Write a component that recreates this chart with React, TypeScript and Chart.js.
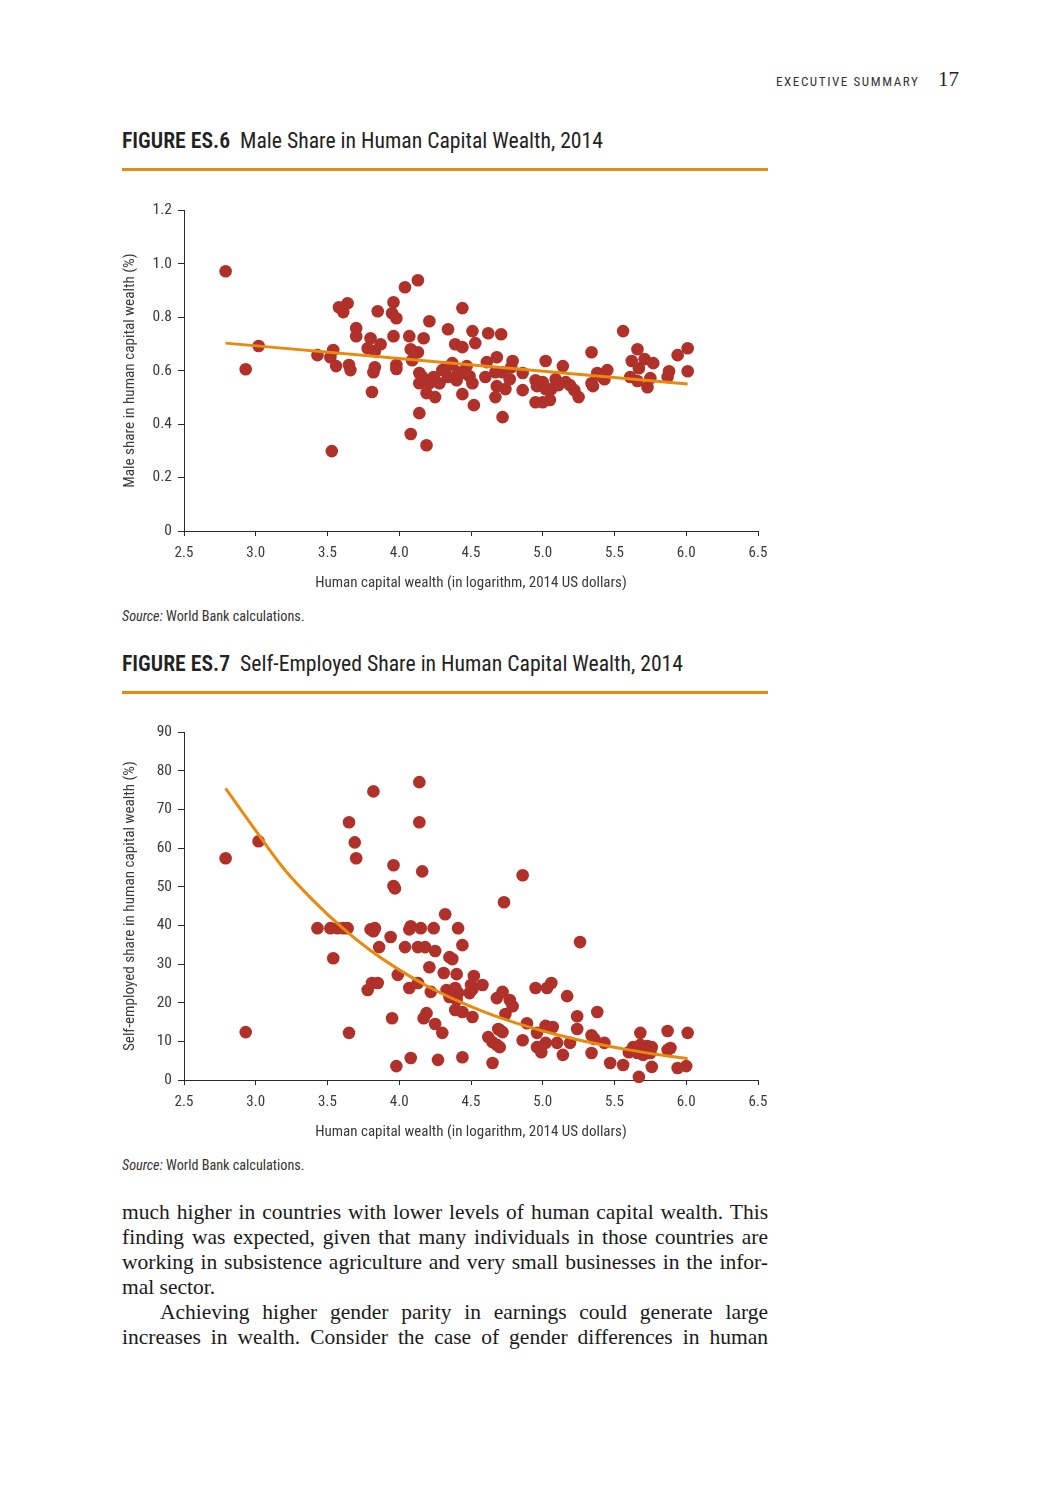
import React, { useEffect, useRef } from 'react';
import { Chart, registerables } from 'chart.js';

Chart.register(...registerables);

// ---------- data ----------
const xTickLabels = ['2.5', '3.0', '3.5', '4.0', '4.5', '5.0', '5.5', '6.0', '6.5'];

const maleX = [
  2.79, 2.93, 3.02, 3.43, 3.52, 3.54, 3.53, 3.56, 3.58, 3.61,
  3.64, 3.65, 3.66, 3.70, 3.70, 3.80, 3.78, 3.81, 3.83, 3.83,
  3.82, 3.85, 3.87, 3.95, 3.98, 3.96, 3.96, 3.98, 3.98, 4.04,
  4.07, 4.08, 4.09, 4.13, 4.13, 4.14, 4.14, 4.14, 4.08, 4.16,
  4.17, 4.19, 4.19, 4.21, 4.25, 4.24, 4.28, 4.33, 4.34, 4.34,
  4.37, 4.39, 4.40, 4.44, 4.44, 4.44, 4.44, 4.49, 4.51, 4.53,
  4.51, 4.52, 4.60, 4.61, 4.62, 4.68, 4.67, 4.68, 4.67, 4.71,
  4.72, 4.72, 4.74, 4.77, 4.79, 4.86, 4.86, 4.95, 4.96, 4.95,
  5.00, 5.00, 5.02, 5.02, 5.05, 5.06, 5.09, 5.11, 5.14, 5.16,
  5.19, 5.22, 5.25, 5.34, 5.34, 5.35, 5.38, 5.43, 5.45, 5.56,
  5.61, 5.62, 5.66, 5.67, 5.66, 5.71, 5.75, 5.73, 5.77, 5.87,
  5.88, 5.94, 6.01, 6.01, 4.30, 4.41, 4.47, 4.21, 4.78, 5.41,
];
const maleY = [
  0.972, 0.605, 0.692, 0.658, 0.650, 0.677, 0.299, 0.617, 0.837, 0.819,
  0.852, 0.621, 0.602, 0.759, 0.729, 0.721, 0.684, 0.520, 0.673, 0.613,
  0.594, 0.822, 0.699, 0.815, 0.796, 0.856, 0.729, 0.621, 0.606, 0.912,
  0.729, 0.680, 0.639, 0.669, 0.938, 0.591, 0.553, 0.441, 0.363, 0.576,
  0.721, 0.516, 0.321, 0.785, 0.501, 0.576, 0.553, 0.613, 0.576, 0.755,
  0.628, 0.699, 0.564, 0.834, 0.688, 0.591, 0.512, 0.579, 0.748, 0.703,
  0.553, 0.471, 0.576, 0.632, 0.740, 0.650, 0.594, 0.542, 0.501, 0.736,
  0.594, 0.426, 0.531, 0.568, 0.636, 0.527, 0.591, 0.564, 0.542, 0.482,
  0.557, 0.482, 0.531, 0.636, 0.490, 0.531, 0.568, 0.546, 0.617, 0.557,
  0.546, 0.527, 0.501, 0.669, 0.553, 0.542, 0.591, 0.568, 0.602, 0.748,
  0.576, 0.636, 0.680, 0.609, 0.561, 0.643, 0.572, 0.538, 0.628, 0.576,
  0.598, 0.658, 0.684, 0.598, 0.602, 0.594, 0.617, 0.553, 0.613, 0.579,
];
const maleTrendX = [2.79, 6.01];
const maleTrendY = [0.703, 0.550];

const selfX = [
  2.79, 2.93, 3.02, 3.43, 3.52, 3.57, 3.61, 3.64, 3.54, 3.65,
  3.69, 3.70, 3.65, 3.82, 3.78, 3.81, 3.85, 3.80, 3.83, 3.82,
  3.86, 3.94, 3.96, 3.96, 3.97, 3.95, 3.99, 3.98, 4.04, 4.08,
  4.07, 4.07, 4.08, 4.14, 4.14, 4.16, 4.15, 4.13, 4.18, 4.13,
  4.21, 4.22, 4.24, 4.25, 4.17, 4.19, 4.25, 4.27, 4.32, 4.41,
  4.44, 4.35, 4.37, 4.31, 4.40, 4.52, 4.50, 4.58, 4.33, 4.39,
  4.41, 4.35, 4.40, 4.49, 4.51, 4.68, 4.39, 4.44, 4.51, 4.62,
  4.65, 4.68, 4.70, 4.30, 4.44, 4.65, 5.26, 4.73, 4.86, 4.95,
  5.03, 5.06, 5.17, 4.72, 4.77, 4.79, 4.74, 5.24, 5.38, 4.89,
  5.02, 5.07, 4.96, 5.24, 4.69, 4.72, 4.70, 4.86, 4.96, 4.99,
  5.02, 5.10, 5.19, 5.14, 5.34, 5.36, 5.43, 5.34, 5.47, 5.56,
  5.68, 5.63, 5.68, 5.73, 5.76, 5.60, 5.66, 5.70, 5.75, 5.76,
  5.67, 5.87, 5.87, 5.89, 6.01, 5.94, 6.00,
];
const selfY = [
  57.4, 12.4, 61.8, 39.3, 39.3, 39.3, 39.3, 39.3, 31.5, 66.7,
  61.5, 57.4, 12.2, 74.7, 23.3, 25.1, 25.1, 39.0, 39.3, 38.5,
  34.4, 37.0, 55.6, 50.2, 49.6, 16.0, 27.2, 3.6, 34.4, 39.8,
  39.0, 23.8, 5.7, 77.1, 66.7, 54.0, 39.3, 34.4, 34.4, 25.1,
  29.2, 22.8, 39.3, 33.4, 16.0, 17.3, 14.5, 5.2, 42.9, 39.3,
  34.9, 31.8, 31.3, 27.7, 27.4, 26.9, 24.6, 24.6, 23.3, 23.8,
  22.5, 21.5, 20.7, 22.5, 23.5, 21.2, 18.1, 17.6, 16.3, 11.1,
  9.8, 9.1, 12.9, 12.2, 5.9, 4.4, 35.7, 46.0, 53.0, 23.8,
  23.8, 25.1, 21.7, 22.8, 20.7, 19.1, 17.1, 16.5, 17.6, 14.7,
  14.0, 13.7, 12.2, 13.2, 13.2, 12.4, 8.5, 10.3, 8.5, 7.2,
  9.6, 9.6, 9.6, 6.5, 11.6, 10.6, 9.6, 7.0, 4.4, 3.9,
  12.2, 8.5, 9.1, 8.8, 8.5, 7.2, 7.0, 6.5, 7.0, 3.4,
  0.8, 12.7, 7.8, 8.3, 12.2, 3.1, 3.6,
];
const selfTrendX = [2.79, 3.02, 3.2, 3.4, 3.6, 3.8, 4.0, 4.2, 4.4, 4.6, 4.8, 5.0, 5.2, 5.4, 5.6, 5.8, 6.01];
const selfTrendY = [75.5, 63.5, 54.5, 46.5, 39.5, 33.5, 28.5, 24.2, 20.6, 17.5, 14.9, 12.7, 10.8, 9.2, 7.8, 6.6, 5.5];

const maleYTicks = ['0', '0.2', '0.4', '0.6', '0.8', '1.0', '1.2'];
const selfYTicks = ['0', '10', '20', '30', '40', '50', '60', '70', '80', '90'];

// ---------- styles ----------
const SANS = "'Liberation Sans Narrow', 'Arial Narrow', 'Roboto Condensed', Roboto, sans-serif";
const SERIF = "'Liberation Serif', 'DejaVu Serif', serif";
const DOT = '#b0302a';
const ORANGE = '#e98a0f';
const AXIS = '#2a2a2a';
const TEXT = '#3a3a3a';

type ChartSpec = {
  xs: number[];
  ys: number[];
  tx: number[];
  ty: number[];
  yMax: number;
  yStep: number;
  yLabels: string[];
  yTitle: string;
};

function ScatterChart({ spec, left, top, width, height }: { spec: ChartSpec; left: number; top: number; width: number; height: number }) {
  const ref = useRef<HTMLCanvasElement | null>(null);
  useEffect(() => {
    if (!ref.current) return;
    const points = spec.xs.map((x, i) => ({ x, y: spec.ys[i] }));
    const trend = spec.tx.map((x, i) => ({ x, y: spec.ty[i] }));
    const chart = new Chart(ref.current, {
      type: 'scatter',
      data: {
        datasets: [
          {
            type: 'line',
            data: trend,
            borderColor: ORANGE,
            borderWidth: 3,
            pointRadius: 0,
            fill: false,
            tension: 0.4,
            cubicInterpolationMode: 'monotone',
            order: 0,
          } as any,
          {
            type: 'scatter',
            data: points,
            backgroundColor: DOT,
            borderWidth: 0,
            pointRadius: 6.3,
            clip: false,
            order: 1,
          } as any,
        ],
      },
      options: {
        responsive: false,
        animation: false,
        devicePixelRatio: 1,
        layout: { padding: { top: 15, right: 22, left: 0, bottom: 0 } },
        plugins: { legend: { display: false }, tooltip: { enabled: false } },
        scales: {
          x: {
            type: 'linear',
            min: 2.5,
            max: 6.5,
            ticks: {
              stepSize: 0.5,
              autoSkip: false,
              maxRotation: 0,
              padding: 8,
              color: TEXT,
              font: { family: SANS, size: 15 },
              callback: (v: any, i: number) => xTickLabels[i] ?? Number(v).toFixed(1),
            },
            grid: { drawOnChartArea: false, drawTicks: true, tickLength: 5, tickColor: AXIS, color: AXIS },
            border: { display: true, color: AXIS, width: 1 },
            title: {
              display: true,
              text: 'Human capital wealth (in logarithm, 2014 US dollars)',
              color: TEXT,
              font: { family: SANS, size: 15 },
              padding: { top: 0, bottom: 12.5 },
            },
            afterFit: (s: any) => { s.height = 74; },
          },
          y: {
            type: 'linear',
            min: 0,
            max: spec.yMax,
            ticks: {
              stepSize: spec.yStep,
              autoSkip: false,
              padding: 6,
              color: TEXT,
              font: { family: SANS, size: 15.5 },
              callback: (v: any, i: number) => spec.yLabels[i] ?? String(v),
            },
            grid: { drawOnChartArea: false, drawTicks: true, tickLength: 6, tickColor: AXIS, color: AXIS },
            border: { display: true, color: AXIS, width: 1 },
            title: {
              display: true,
              text: spec.yTitle,
              color: TEXT,
              font: { family: SANS, size: 15.2 },
              padding: { top: 21, bottom: 0 },
            },
            afterFit: (s: any) => { s.width = 84; },
          },
        },
      } as any,
    });
    return () => chart.destroy();
  }, [spec]);
  return (
    <canvas
      ref={ref}
      width={width}
      height={height}
      style={{ position: 'absolute', left, top, width, height }}
    />
  );
}

const maleSpec: ChartSpec = {
  xs: maleX, ys: maleY, tx: maleTrendX, ty: maleTrendY,
  yMax: 1.2, yStep: 0.2, yLabels: maleYTicks,
  yTitle: 'Male share in human capital wealth (%)',
};
const selfSpec: ChartSpec = {
  xs: selfX, ys: selfY, tx: selfTrendX, ty: selfTrendY,
  yMax: 90, yStep: 10, yLabels: selfYTicks,
  yTitle: 'Self-employed share in human capital wealth (%)',
};

const lineStyle: React.CSSProperties = {
  textAlign: 'justify',
  textAlignLast: 'justify' as any,
  whiteSpace: 'nowrap',
};

export default function App() {
  return (
    <div style={{ position: 'absolute', left: 0, top: 0, width: 1050, height: 1500, background: '#fff', overflow: 'hidden' }}>
      {/* running header */}
      <div style={{ position: 'absolute', left: 776, top: 74, fontFamily: SANS, fontSize: 13, letterSpacing: 1.6, color: '#333', lineHeight: '16px' }}>
        EXECUTIVE SUMMARY
      </div>
      <div style={{ position: 'absolute', left: 938, top: 67, fontFamily: SERIF, fontSize: 21, color: '#222', lineHeight: '24px' }}>
        17
      </div>

      {/* figure ES.6 */}
      <div style={{ position: 'absolute', left: 122, top: 129, fontFamily: SANS, fontSize: 21.7, color: '#222', lineHeight: '24px', whiteSpace: 'nowrap' }}>
        <span style={{ fontWeight: 600 }}>FIGURE ES.6</span>&nbsp; Male Share in Human Capital Wealth, 2014
      </div>
      <div style={{ position: 'absolute', left: 122, top: 168, width: 646, height: 3, background: ORANGE }} />
      <ScatterChart spec={maleSpec} left={100} top={195} width={680} height={410} />
      <div style={{ position: 'absolute', left: 122, top: 607, fontFamily: SANS, fontSize: 14.2, color: '#333', lineHeight: '18px' }}>
        <i>Source:</i> World Bank calculations.
      </div>

      {/* figure ES.7 */}
      <div style={{ position: 'absolute', left: 122, top: 652, fontFamily: SANS, fontSize: 21.7, color: '#222', lineHeight: '24px', whiteSpace: 'nowrap' }}>
        <span style={{ fontWeight: 600 }}>FIGURE ES.7</span>&nbsp; Self-Employed Share in Human Capital Wealth, 2014
      </div>
      <div style={{ position: 'absolute', left: 122, top: 691, width: 646, height: 3, background: ORANGE }} />
      <ScatterChart spec={selfSpec} left={100} top={717} width={680} height={437} />
      <div style={{ position: 'absolute', left: 122, top: 1156, fontFamily: SANS, fontSize: 14.2, color: '#333', lineHeight: '18px' }}>
        <i>Source:</i> World Bank calculations.
      </div>

      {/* body text */}
      <div style={{ position: 'absolute', left: 122, top: 1200, width: 646, fontFamily: SERIF, fontSize: 21.5, lineHeight: '25px', color: '#1a1a1a' }}>
        <div style={lineStyle}>much higher in countries with lower levels of human capital wealth. This</div>
        <div style={lineStyle}>finding was expected, given that many individuals in those countries are</div>
        <div style={lineStyle}>working in subsistence agriculture and very small businesses in the infor-</div>
        <div>mal sector.</div>
        <div style={{ ...lineStyle, paddingLeft: 38 }}>Achieving higher gender parity in earnings could generate large</div>
        <div style={lineStyle}>increases in wealth. Consider the case of gender differences in human</div>
      </div>
    </div>
  );
}
